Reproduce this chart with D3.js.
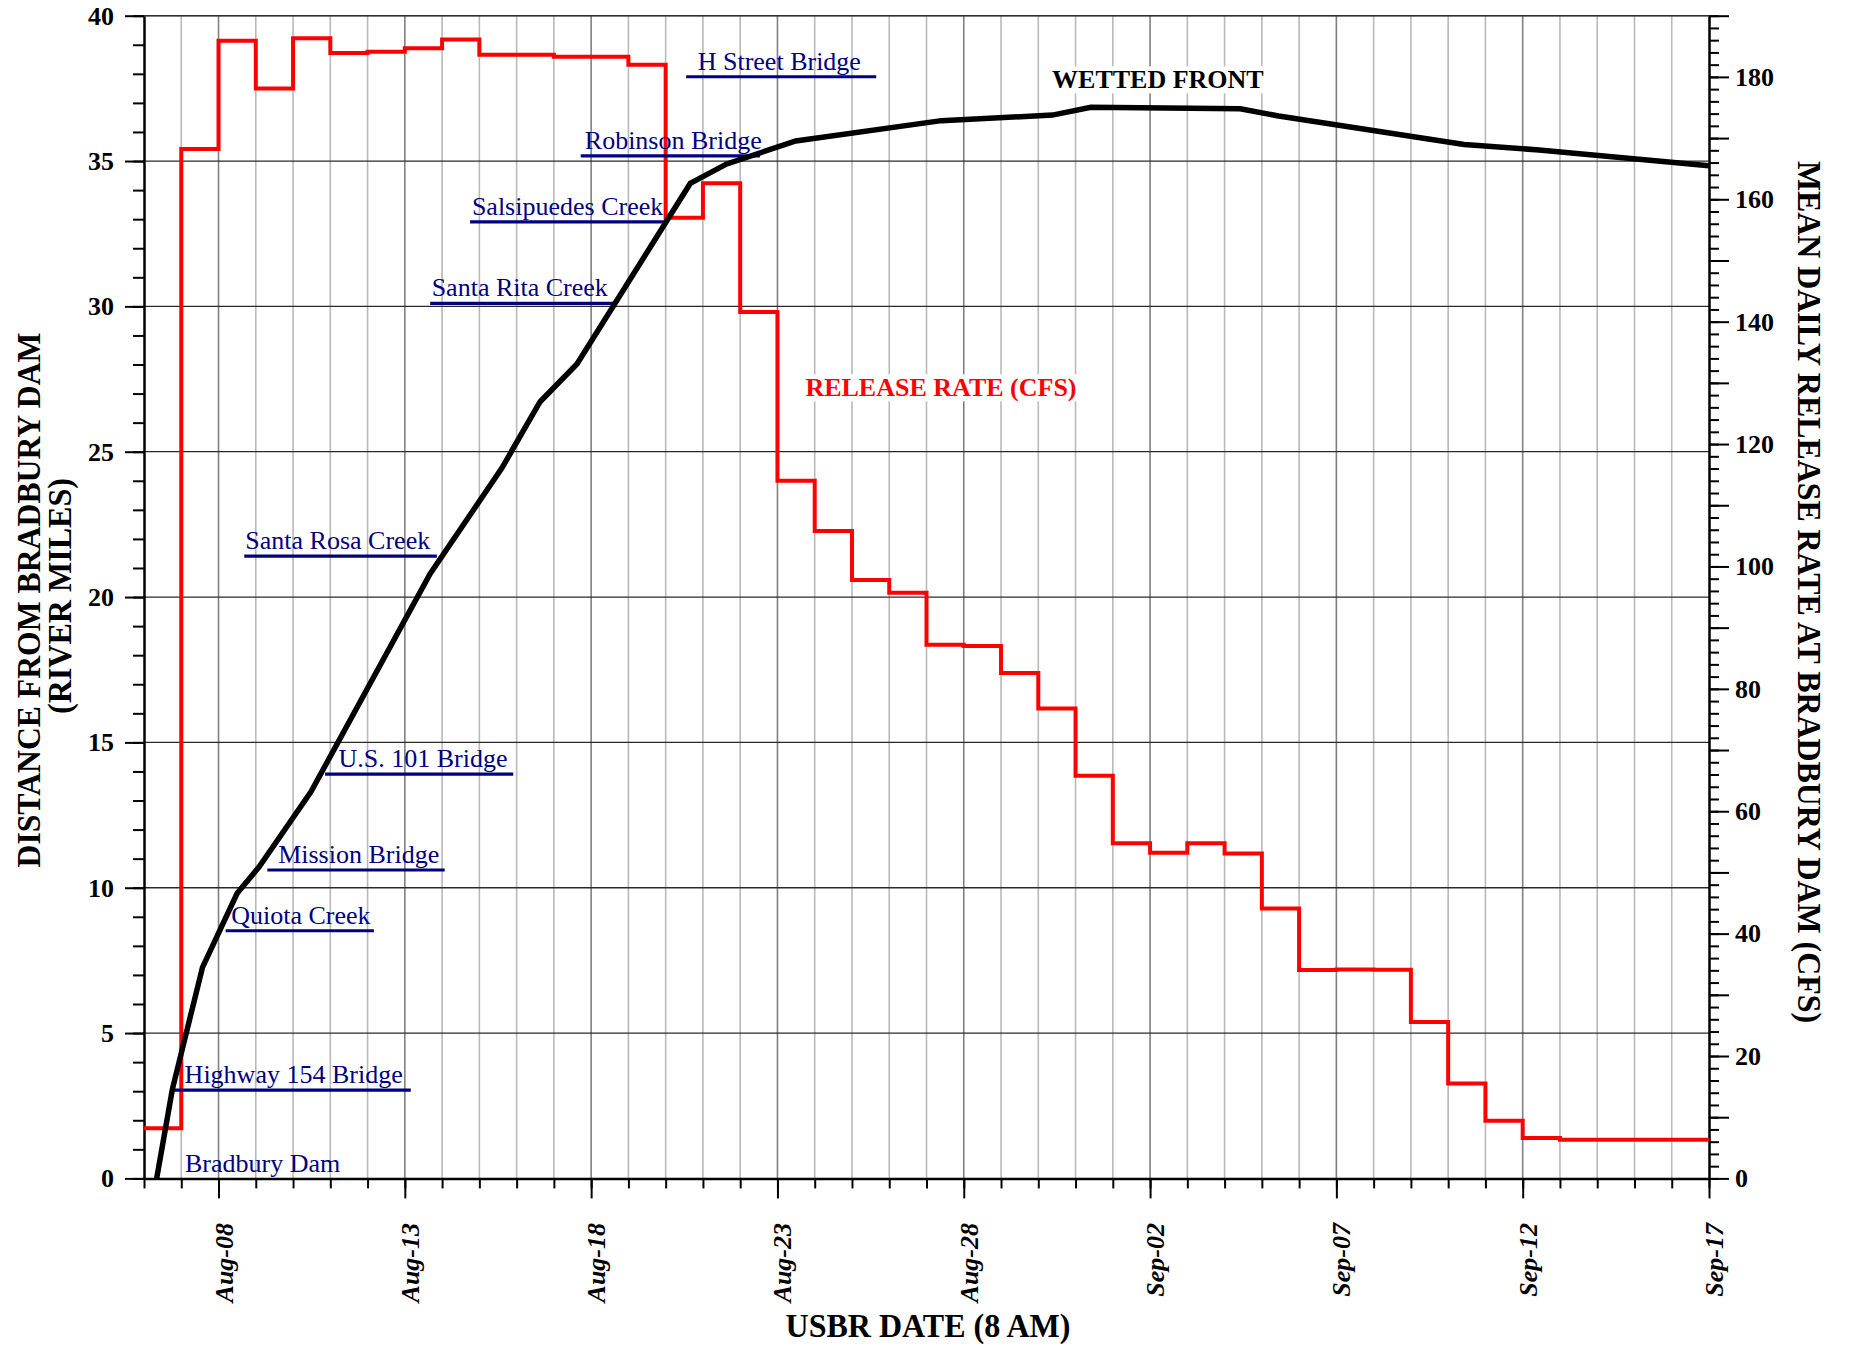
<!DOCTYPE html>
<html><head><meta charset="utf-8">
<script src="https://cdn.jsdelivr.net/npm/d3@7"></script>
<style>body{margin:0;background:#fff}svg{display:block}</style>
</head><body><svg id="chart" width="1851" height="1346"></svg>
<script>
// ---------------- DATA ----------------
// x = days since Aug-06 (8 AM)
const dateTickDays   = [2, 7, 12, 17, 22, 27, 32, 37, 42];
const dateTickLabels = ["Aug-08","Aug-13","Aug-18","Aug-23","Aug-28","Sep-02","Sep-07","Sep-12","Sep-17"];

// Mean daily release rate at Bradbury Dam (cfs), one value per day starting Aug-06
const releaseDays = d3.range(0, 42);
const releaseCfs = [8.2, 168.2, 185.9, 178.1, 186.3, 183.9, 184.1, 184.7, 186.1, 183.6,
                    183.6, 183.3, 183.3, 182.0, 157.0, 162.6, 141.6, 114.0, 105.8, 97.8,
                    95.7, 87.2, 87.0, 82.6, 76.8, 65.8, 54.75, 53.2, 54.75, 53.1,
                    44.1, 34.05, 34.15, 34.1, 25.55, 15.5, 9.43, 6.6, 6.3, 6.3,
                    6.3, 6.3];

// Wetted front (river miles from Bradbury Dam)
const frontDays  = [0.34, 0.76, 1.57, 2.50, 3.09, 4.48, 7.68, 9.60, 10.63, 11.62,
                    14.66, 15.64, 17.49, 21.40, 24.38, 25.41, 29.42, 30.45, 35.43, 37.44, 42.0];
const frontMiles = [0.0, 3.06, 7.26, 9.81, 10.72, 13.30, 20.80, 24.43, 26.72, 28.02,
                    34.23, 34.90, 35.69, 36.39, 36.58, 36.85, 36.80, 36.55, 35.57, 35.38, 34.84];

// Landmarks along the river
const landmarkNames = ["Bradbury Dam","Highway 154 Bridge","Quiota Creek","Mission Bridge","U.S. 101 Bridge",
                       "Santa Rosa Creek","Santa Rita Creek","Salsipuedes Creek","Robinson Bridge","H Street Bridge"];
const landmarkMiles = [0, 3.04, 8.52, 10.61, 13.91, 21.41, 30.10, 32.91, 35.18, 37.90];

// Axis ticks
const leftMajorTicks  = d3.range(0, 41, 5);
const leftMinorTicks  = d3.range(0, 41, 1);
const rightLabelTicks = d3.range(0, 181, 20);
const rightMidTicks   = d3.range(0, 191, 10);
const rightMinorTicks = d3.range(0, 191, 2);

// ---------------- LAYOUT ----------------
const W = 1851, H = 1346;
const L = 144, R = 1709, T = 15.7, B = 1178.4;
const SERIF = "'Liberation Serif','Times New Roman',Times,serif";
const NAVY = "#000080";

// label layout: [lineStartDay, lineEndDay, textStartDay] (null = no underline)
const landmarkLayout = [
  [null, null, 1.10],
  [0.805, 7.16, 1.09],
  [2.19, 6.17, 2.34],
  [3.31, 8.07, 3.60],
  [4.86, 9.91, 5.22],
  [2.69, 7.86, 2.72],
  [7.68, 12.60, 7.72],
  [8.75, 14.03, 8.80],
  [11.72, 16.53, 11.83],
  [14.55, 19.65, 14.86]
];

const x  = d3.scaleLinear().domain([0, 42]).range([L, R]);
const yL = d3.scaleLinear().domain([0, 40]).range([B, T]);
const yR = d3.scaleLinear().domain([0, 190]).range([B, T]);

const svg = d3.select("#chart");
svg.append("rect").attr("width", W).attr("height", H).attr("fill", "#fff");

// grid
svg.append("g").selectAll("line").data(d3.range(1, 42)).join("line")
  .attr("x1", d => x(d)).attr("x2", d => x(d)).attr("y1", T).attr("y2", B)
  .attr("stroke", d => (d - 2) % 5 === 0 ? "#808080" : "#b9b9b9").attr("stroke-width", 1.6);
svg.append("g").selectAll("line").data(d3.range(5, 41, 5)).join("line")
  .attr("x1", L).attr("x2", R).attr("y1", d => yL(d)).attr("y2", d => yL(d))
  .attr("stroke", "#2a2a2a").attr("stroke-width", 1.3);

function styleAxis(sel, keepDomain) {
  sel.attr("font-family", SERIF);
  if (keepDomain) sel.select(".domain").attr("stroke", "#000").attr("stroke-width", 2.5);
  else sel.select(".domain").remove();
  sel.selectAll(".tick line").attr("stroke", "#000").attr("stroke-width", 2);
  sel.selectAll(".tick text").attr("font-family", SERIF).attr("font-weight", "bold")
     .attr("font-size", 26).attr("fill", "#000");
}

// left axis
svg.append("g").attr("transform", `translate(${L},0)`)
  .call(d3.axisLeft(yL).tickValues(leftMinorTicks).tickSize(11).tickSizeOuter(0).tickFormat(""))
  .call(s => styleAxis(s, false));
svg.append("g").attr("transform", `translate(${L},0)`)
  .call(d3.axisLeft(yL).tickValues(leftMajorTicks).tickSize(19).tickSizeOuter(0).tickPadding(11).tickFormat(d3.format("d")))
  .call(s => styleAxis(s, true));

// right axis
svg.append("g").attr("transform", `translate(${R},0)`)
  .call(d3.axisRight(yR).tickValues(rightMinorTicks).tickSize(10).tickSizeOuter(0).tickFormat(""))
  .call(s => styleAxis(s, false));
svg.append("g").attr("transform", `translate(${R},0)`)
  .call(d3.axisRight(yR).tickValues(rightMidTicks).tickSize(20).tickSizeOuter(0).tickPadding(6)
        .tickFormat(d => rightLabelTicks.includes(d) ? d3.format("d")(d) : ""))
  .call(s => styleAxis(s, true));

// bottom axis
svg.append("g").attr("transform", `translate(0,${B})`)
  .call(d3.axisBottom(x).tickValues(d3.range(0, 43)).tickSize(10).tickSizeOuter(0).tickFormat(""))
  .call(s => styleAxis(s, true));
const bx = svg.append("g").attr("transform", `translate(0,${B})`)
  .call(d3.axisBottom(x).tickValues(dateTickDays).tickSize(20).tickSizeOuter(0)
        .tickFormat((d, i) => dateTickLabels[i]))
  .call(s => styleAxis(s, false));
bx.selectAll(".tick text")
  .attr("transform", "rotate(-90)").attr("x", -44.6).attr("y", 0).attr("dy", "0.52em")
  .attr("text-anchor", "end").attr("font-style", "italic");

// top border (40 mi line) already drawn as grid; emphasize
svg.append("line").attr("x1", L).attr("x2", R).attr("y1", T).attr("y2", T)
  .attr("stroke", "#333").attr("stroke-width", 1.6);

// release rate (step)
const relPts = releaseDays.map((d, i) => [d, releaseCfs[i]]);
relPts.push([42, releaseCfs[releaseCfs.length - 1]]);
svg.append("path").datum(relPts)
  .attr("d", d3.line().x(d => x(d[0])).y(d => yR(d[1])).curve(d3.curveStepAfter))
  .attr("fill", "none").attr("stroke", "#ff0000").attr("stroke-width", 4);

// landmarks
const lm = svg.append("g").attr("font-family", SERIF).attr("font-size", 26).attr("fill", NAVY);
landmarkNames.forEach((name, i) => {
  const [s, e, t] = landmarkLayout[i];
  const yy = yL(landmarkMiles[i]);
  if (s !== null) {
    lm.append("line").attr("x1", x(s)).attr("x2", x(e)).attr("y1", yy).attr("y2", yy)
      .attr("stroke", NAVY).attr("stroke-width", 3.2);
  }
  lm.append("text").attr("x", x(t)).attr("y", yy - (s === null ? 6.7 : 7)).text(name);
});

// wetted front
const frontPts = frontDays.map((d, i) => [d, frontMiles[i]]);
svg.append("path").datum(frontPts)
  .attr("d", d3.line().x(d => x(d[0])).y(d => yL(d[1])))
  .attr("fill", "none").attr("stroke", "#000").attr("stroke-width", 5.5).attr("stroke-linejoin", "miter");

// series labels with white background
function bgLabel(tx, ty, txt, color) {
  const grp = svg.append("g");
  const t = grp.append("text").attr("x", tx).attr("y", ty).text(txt)
    .attr("font-family", SERIF).attr("font-weight", "bold").attr("font-size", 26).attr("fill", color);
  const bb = t.node().getBBox();
  grp.insert("rect", "text").attr("x", bb.x - 3).attr("y", bb.y + 1).attr("width", bb.width + 6)
    .attr("height", bb.height - 2).attr("fill", "#fff");
}
bgLabel(x(24.37), yL(37.5), "WETTED FRONT", "#000");
bgLabel(x(17.75), yR(127.8), "RELEASE RATE (CFS)", "#ff0000");

// axis titles
const titles = svg.append("g").attr("font-family", SERIF).attr("font-weight", "bold").attr("font-size", 34)
  .attr("fill", "#000").attr("text-anchor", "middle").attr("lengthAdjust", "spacingAndGlyphs");
titles.append("text").attr("transform", "translate(40,600) rotate(-90)")
  .attr("textLength", 535).attr("lengthAdjust", "spacingAndGlyphs").text("DISTANCE FROM BRADBURY DAM");
titles.append("text").attr("transform", "translate(71,596) rotate(-90)")
  .attr("textLength", 236).attr("lengthAdjust", "spacingAndGlyphs").text("(RIVER MILES)");
titles.append("text").attr("transform", "translate(1798,592) rotate(90)")
  .attr("textLength", 862).attr("lengthAdjust", "spacingAndGlyphs").text("MEAN DAILY RELEASE RATE AT BRADBURY DAM (CFS)");
titles.append("text").attr("x", 928).attr("y", 1337)
  .attr("textLength", 285).attr("lengthAdjust", "spacingAndGlyphs").text("USBR DATE (8 AM)");
</script></body></html>
